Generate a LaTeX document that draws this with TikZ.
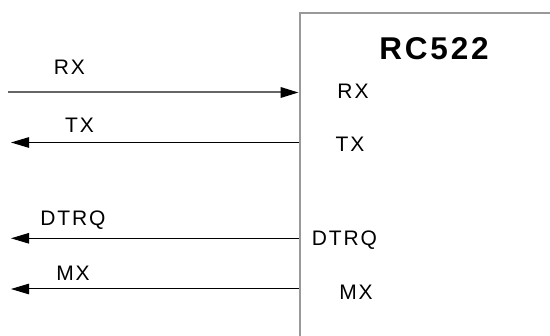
\documentclass[tikz,border=0pt]{standalone}
\usepackage{fontspec}
\setmainfont{Liberation Sans}
\newfontfamily\labfont[LetterSpace=9]{Liberation Sans}
\newfontfamily\titfont[LetterSpace=9]{Liberation Sans Bold}
\usetikzlibrary{arrows.meta}
\definecolor{boxgray}{HTML}{999999}
\definecolor{rxgray}{HTML}{666666}
\tikzset{
  chip/.style={draw=boxgray, line width=2.5pt, fill=none, anchor=north west, inner sep=0pt},
  pinlabel/.style={inner sep=0pt, text height=15pt, text depth=0pt, font=\labfont\fontsize{21pt}{24pt}\selectfont},
  titlelabel/.style={inner sep=0pt, text height=22.5pt, text depth=0pt, font=\titfont\fontsize{31.5pt}{36pt}\selectfont},
  sig/.style={draw=black, line width=1pt, -{Triangle[length=18pt,width=10.5pt]}},
  sigin/.style={draw=rxgray, line width=2pt, -{Triangle[length=18pt,width=10.5pt,fill=black,color=black]}},
}
\begin{document}
\begin{tikzpicture}[x=1pt,y=-1pt]
\useasboundingbox (0,0) rectangle (550,336);
\clip (0,0) rectangle (550,336);
\node[chip, minimum width=320pt, minimum height=360pt] (rc) at (298.5,12) {};
\node[titlelabel] (title) at (434,48) {RC522};
% free ends
\coordinate (rxfree) at (8,92.5);
\coordinate (txfree) at (11,142.5);
\coordinate (dtfree) at (11,238.3);
\coordinate (mxfree) at (11,289);
% connectors
\draw[sigin] (rxfree) -- (rxfree -| rc.west);
\draw[sig] (txfree -| rc.west) -- (txfree);
\draw[sig] (dtfree -| rc.west) -- (dtfree);
\draw[sig] (mxfree -| rc.west) -- (mxfree);
% outer labels
\node[pinlabel] (rxo) at (69.5,66.7) {RX};
\node[pinlabel] (txo) at (79.5,125) {TX};
\node[pinlabel] (dto) at (73,218.3) {DTRQ};
\node[pinlabel] (mxo) at (73,272.7) {MX};
% inner labels
\node[pinlabel] (rxi) at (353,91) {RX};
\node[pinlabel] (txi) at (350,144.3) {TX};
\node[pinlabel] (dti) at (344.5,237.7) {DTRQ};
\node[pinlabel] (mxi) at (356,291.7) {MX};
\end{tikzpicture}
\end{document}
